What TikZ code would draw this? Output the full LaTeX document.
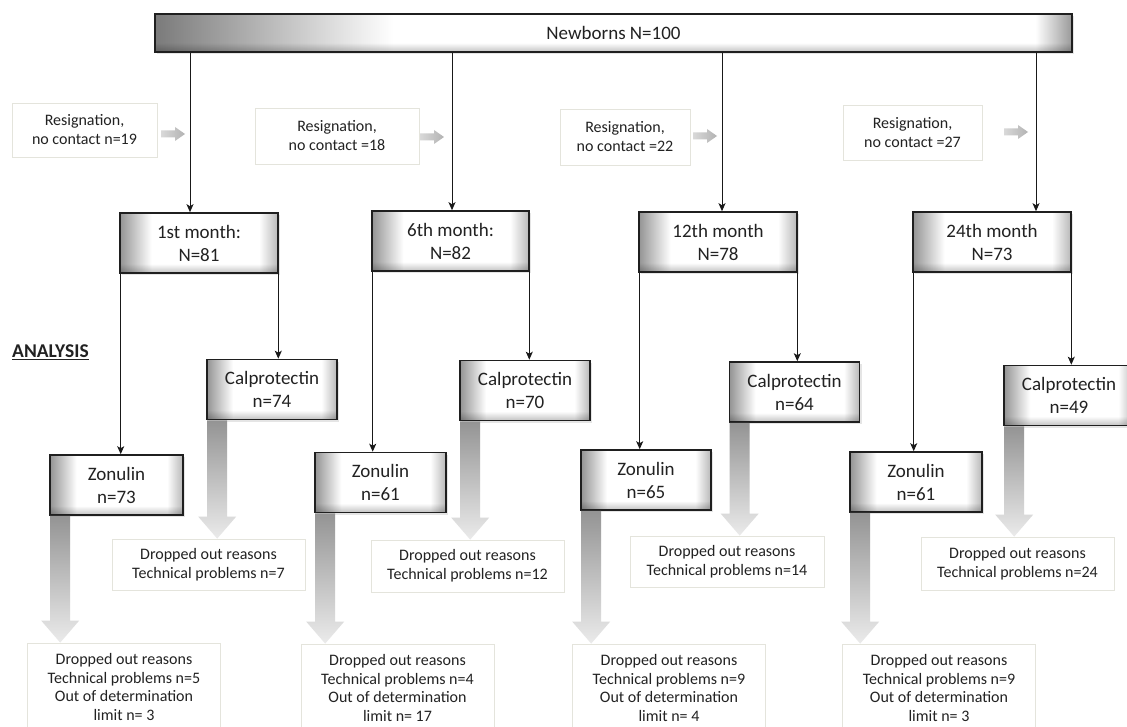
\documentclass[tikz,border=0pt]{standalone}
\usepackage{fontspec}
\setmainfont{Carlito}
\usetikzlibrary{arrows.meta,shadows,fadings,calc}
\definecolor{boxedge}{RGB}{228,228,220}
\definecolor{ink}{RGB}{34,34,34}
\pgfdeclarehorizontalshading{bevelh}{100bp}{color(0bp)=(black!42); color(25bp)=(black!42); color(35bp)=(white); color(69bp)=(white); color(75bp)=(black!28); color(100bp)=(black!28)}
\pgfdeclarehorizontalshading{topbar}{100bp}{color(0bp)=(black!52); color(25bp)=(black!52); color(38bp)=(white); color(73bp)=(white); color(75bp)=(black!40); color(100bp)=(black!40)}
\newcommand\grayrarrow[2]{%
  \path[left color=black!15,right color=black!30]
    (#1,#2-3.5) -- (#1+14,#2-3.5) -- (#1+14,#2-7) -- (#1+24,#2) -- (#1+14,#2+7) -- (#1+14,#2+3.5) -- (#1,#2+3.5) -- cycle;}
\newcommand\bigarrow[2]{%
  \path[top color=black!42,bottom color=black!8] let \p1=(#1.south west), \p2=(#2.north) in
    (\x1+1,\y1) -- (\x1+21,\y1) -- (\x1+21,\y2+22) -- (\x1+30,\y2+22) -- (\x1+11,\y2) --
    (\x1-8,\y2+22) -- (\x1+1,\y2+22) -- cycle;}
\begin{document}
\begin{tikzpicture}[x=1pt,y=-1pt,
  bevel/.style={draw=black!88, line width=1.6pt, shading=bevelh, minimum width=#1,
    minimum height=60, inner sep=0pt, align=center, text=ink,
    font=\fontsize{19}{23}\selectfont,
    drop shadow={shadow xshift=2pt,shadow yshift=-2pt,opacity=0.2}},
  topbox/.style={draw=black!88, line width=1.6pt, shading=topbar, minimum width=917,
    minimum height=38, inner sep=0pt, text=ink, font=\fontsize{19}{23}\selectfont,
    drop shadow={shadow xshift=2pt,shadow yshift=-2pt,opacity=0.2}},
  softbox/.style={draw=boxedge, line width=0.8pt, fill=white, inner sep=0pt,
    align=center, text=ink, font=\fontsize{16}{19}\selectfont},
  dropz/.style={softbox, minimum width=193, minimum height=88, font=\fontsize{16}{18.5}\selectfont},
  conn/.style={draw=black!90, line width=1pt, -{Stealth[length=8pt,width=7pt,inset=2pt]}},
  bottomfade/.style={fill=black, opacity=0.22, path fading=north}
]
\useasboundingbox (0,0) rectangle (1127,727);
\clip (0,0) rectangle (1127,727);
\fill[white] (0,0) rectangle (1127,727);

% top
\node[topbox] (top) at (613.5,33) {Newborns N=100};

% resignation boxes
\node[softbox, minimum width=145, minimum height=54] (r1) at (84.5,130) {Resignation,\\no contact n=19};
\node[softbox, minimum width=164, minimum height=56] (r2) at (337,136) {Resignation,\\no contact =18};
\node[softbox, minimum width=130, minimum height=56] (r3) at (625,137) {Resignation,\\no contact =22};
\node[softbox, minimum width=139, minimum height=55] (r4) at (912.5,132.5) {Resignation,\\no contact =27};
\grayrarrow{161}{134}
\grayrarrow{420}{137}
\grayrarrow{693}{136}
\grayrarrow{1004}{132}

% months
\node[bevel=158] (m1) at (199,243) {1st month:\\N=81};
\node[bevel=157] (m2) at (450.5,241) {6th month:\\N=82};
\node[bevel=158] (m3) at (718,242) {12th month\\N=78};
\node[bevel=158] (m4) at (992,242) {24th month\\N=73};

% analysis label
\node[anchor=west, inner sep=0pt, text=ink, font=\fontsize{19.5}{21}\selectfont\bfseries] (an) at (12,352) {\underline{ANALYSIS}};

% calprotectin
\node[bevel=130] (c1) at (272,389.5) {Calprotectin\\n=74};
\node[bevel=130] (c2) at (525,390.5) {Calprotectin\\n=70};
\node[bevel=130] (c3) at (794.5,392) {Calprotectin\\n=64};
\node[bevel=130] (c4) at (1069,395.5) {Calprotectin\\n=49};

% zonulin
\node[bevel=133] (z1) at (116.5,485) {Zonulin\\n=73};
\node[bevel=131] (z2) at (380.5,482.5) {Zonulin\\n=61};
\node[bevel=130] (z3) at (646,480) {Zonulin\\n=65};
\node[bevel=132] (z4) at (916,482) {Zonulin\\n=61};

% bottom fades on bevel boxes
\foreach \n in {top,m1,m2,m3,m4,c1,c2,c3,c4,z1,z2,z3,z4}{
  \path[bottomfade] ([xshift=1.6pt,yshift=1.6pt]\n.south west) rectangle ([xshift=-1.6pt,yshift=10pt]\n.south east);
}

% dropped-out boxes
\node[softbox, minimum width=193, minimum height=51] (d1c) at (208.5,564.5) {Dropped out reasons\\Technical problems n=7};
\node[softbox, minimum width=193, minimum height=52] (d2c) at (467.5,566) {Dropped out reasons\\Technical problems n=12};
\node[softbox, minimum width=194, minimum height=51] (d3c) at (727,561.5) {Dropped out reasons\\Technical problems n=14};
\node[softbox, minimum width=193, minimum height=53] (d4c) at (1017.5,563.5) {Dropped out reasons\\Technical problems n=24};

\node[dropz] (d1z) at (124,687) {Dropped out reasons\\Technical problems n=5\\Out of determination\\limit n= 3};
\node[dropz] (d2z) at (397.5,688) {Dropped out reasons\\Technical problems n=4\\Out of determination\\limit n= 17};
\node[dropz] (d3z) at (669,688) {Dropped out reasons\\Technical problems n=9\\Out of determination\\limit n= 4};
\node[dropz] (d4z) at (939,688) {Dropped out reasons\\Technical problems n=9\\Out of determination\\limit n= 3};

% big gray arrows
\bigarrow{c1}{d1c}
\bigarrow{c2}{d2c}
\bigarrow{c3}{d3c}
\bigarrow{c4}{d4c}
\bigarrow{z1}{d1z}
\bigarrow{z2}{d2z}
\bigarrow{z3}{d3z}
\bigarrow{z4}{d4z}

% connectors from top
\coordinate (x1) at (190,0);
\coordinate (x2) at (452,0);
\coordinate (x3) at (722,0);
\coordinate (x4) at (1036,0);
\draw[conn] (top.south -| x1) -- (m1.north -| x1);
\draw[conn] (top.south -| x2) -- (m2.north -| x2);
\draw[conn] (top.south -| x3) -- (m3.north -| x3);
\draw[conn] (top.south -| x4) -- (m4.north -| x4);

% month -> zonulin / calprotectin
\foreach \m/\z/\c in {m1/z1/c1, m2/z2/c2, m3/z3/c3, m4/z4/c4}{
  \draw[conn] ([xshift=1.5pt]\m.south west) -- ([xshift=1.5pt]\m.south west |- \z.north);
  \draw[conn] ([xshift=-0.5pt]\m.south east) -- ([xshift=-0.5pt]\m.south east |- \c.north);
}
\end{tikzpicture}
\end{document}
